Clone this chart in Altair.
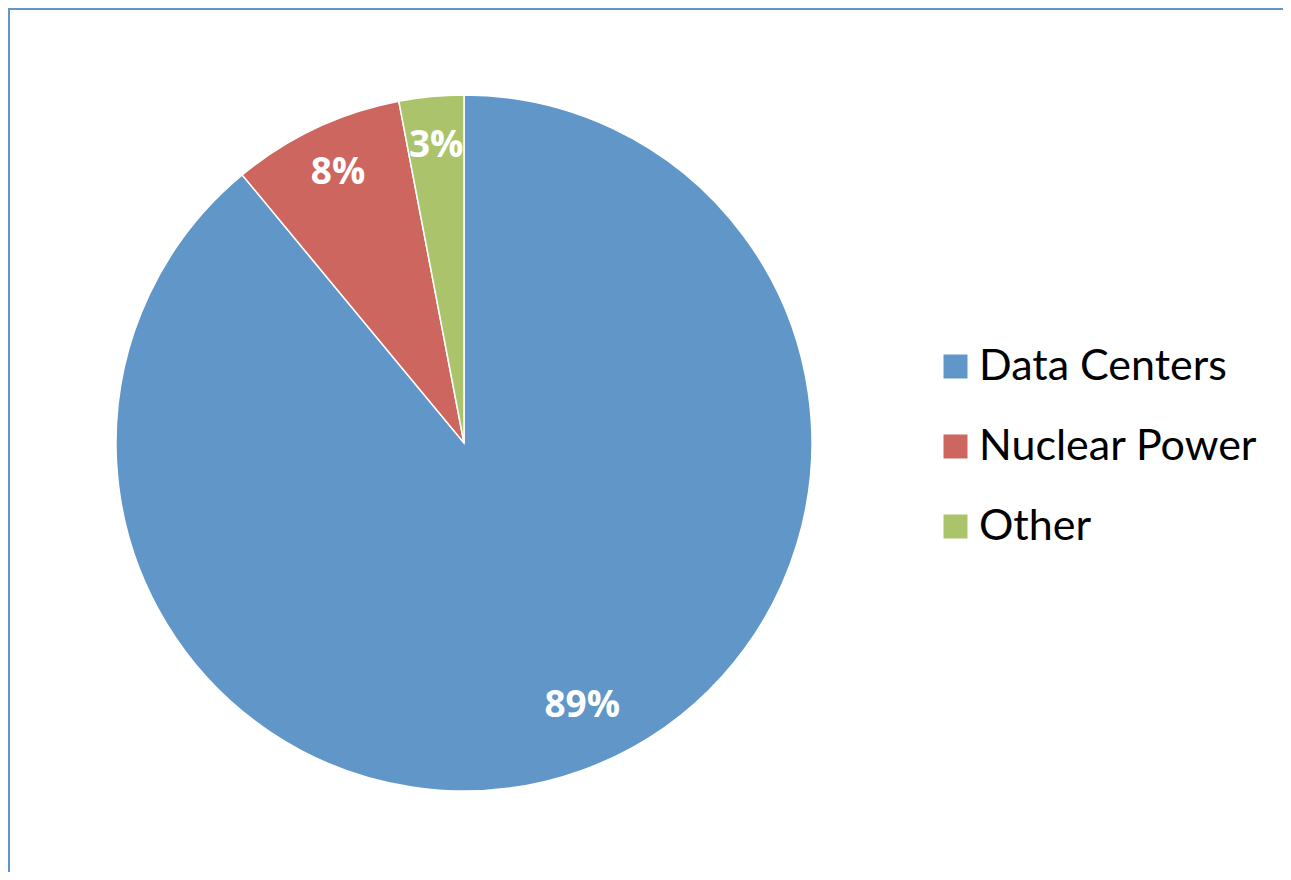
import altair as alt
import pandas as pd

categories = ["Data Centers", "Nuclear Power", "Other"]
values = [89, 8, 3]
labels = ["89%", "8%", "3%"]
colors = ["#6196C9", "#CE6660", "#ABC46B"]

df = pd.DataFrame({"category": categories, "value": values, "label": labels,
                   "order": list(range(len(categories)))})

W, H = 1275, 864
CX, CY, R = 456, 435, 348

base = alt.Chart(df).transform_window(
    cum="sum(value)", sort=[alt.SortField("order")]
).transform_calculate(
    start="datum.cum - datum.value",
    mid="datum.cum - datum.value / 2",
)

theta_scale = alt.Scale(domain=[0, 100], range=[0, 6.283185307179586])

pie = base.mark_arc(radius=R, stroke="white", strokeWidth=1.5, x=CX, y=CY).encode(
    theta=alt.Theta("start:Q", scale=theta_scale),
    theta2="cum:Q",
    color=alt.Color(
        "category:N",
        sort=categories,
        scale=alt.Scale(domain=categories, range=colors),
        legend=alt.Legend(
            title=None,
            orient="none",
            legendX=926,
            legendY=337,
            symbolType="square",
            symbolSize=576,
            symbolStrokeWidth=0,
            labelFontSize=43,
            labelFont="Lato",
            labelColor="black",
            labelOffset=2,
            labelLimit=500,
            rowPadding=36,
            padding=0,
        ),
    ),
)

text_small = base.mark_text(
    radius=296, x=CX, y=CY, fontSize=37, fontWeight="bold", font="Open Sans", color="white",
    dy=-2,
).encode(
    theta=alt.Theta("mid:Q", scale=theta_scale),
    text="label:N",
).transform_filter("datum.value < 50")

text_big = base.mark_text(
    radius=290, x=CX, y=CY, fontSize=37, fontWeight="bold", font="Open Sans", color="white",
    dx=20, dy=-10,
).encode(
    theta=alt.Theta("mid:Q", scale=theta_scale),
    text="label:N",
).transform_filter("datum.value >= 50")

frame_df = pd.DataFrame({"k": [0]})
top_rule = alt.Chart(frame_df).mark_rule(color="#6096C9", strokeWidth=4).encode(
    x=alt.value(0), x2=alt.value(W), y=alt.value(0)
)
left_rule = alt.Chart(frame_df).mark_rule(color="#6096C9", strokeWidth=4).encode(
    x=alt.value(0), y=alt.value(0), y2=alt.value(H)
)

chart = alt.layer(pie, text_small, text_big, top_rule, left_rule).properties(
    width=W, height=H, autosize=alt.AutoSizeParams(type="none"), padding=0
).configure_view(stroke=None)

chart.save("out.html", embed_options={"renderer": "svg", "actions": False})
